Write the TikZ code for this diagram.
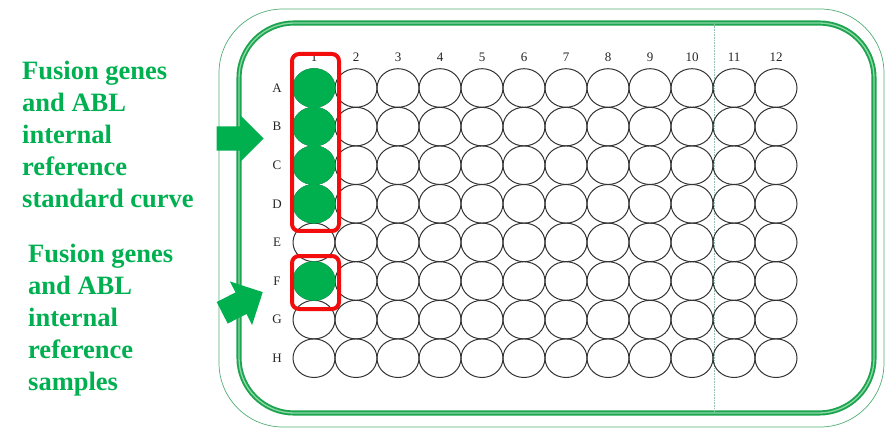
\documentclass[tikz,border=0pt]{standalone}
\usepackage{fontspec}
\setmainfont{Liberation Serif}
\usepackage{xcolor}
\usetikzlibrary{shapes.geometric,shapes.arrows,positioning}
\definecolor{cTextG}{HTML}{00B050}
\definecolor{cWellG}{HTML}{00AF4E}
\definecolor{cPlateD}{HTML}{1CA44F}
\definecolor{cPlateL}{HTML}{8FD8A8}
\definecolor{cPlateO}{HTML}{4FAF74}
\definecolor{cDivL}{HTML}{8FBFB0}
\definecolor{cBoxR}{HTML}{F20C0C}
\definecolor{cWellL}{HTML}{333333}

\begin{document}
\begin{tikzpicture}[x=1pt,y=-1pt,
  well/.style={ellipse,draw=cWellL,line width=1pt,minimum width=42pt,
    minimum height=38.6pt,inner sep=0pt},
  wellfill/.style={well,fill=cWellG,draw=cWellG},
  lbl/.style={font=\fontsize{13}{15}\selectfont,text=black!85,inner sep=0pt},
  caption/.style={font=\bfseries\fontsize{26.5}{32}\selectfont,text=cTextG,
    align=left,anchor=north west,inner sep=0pt},
  bigarrow/.style={single arrow,fill=cWellG,inner xsep=0pt,anchor=tip},
  redbox/.style={draw=cBoxR,line width=4pt,rounded corners=7pt}]

  \useasboundingbox (0,0) rectangle (885,430);

  % plate outline
  \draw[cPlateO,line width=0.7pt,rounded corners=64pt] (219,9) rectangle (884,427);
  \draw[cPlateD,line width=1.9pt,double=cPlateL,double distance=1.3pt,
    rounded corners=55pt] (239,23) rectangle (874,413);
  \draw[cDivL,line width=0.6pt,densely dotted] (714,24) -- (714,412);

  % wells
  \foreach \r [count=\i] in {A,B,C,D,E,F,G,H}
    {\node[lbl] (r\r) at (277,{88+38.6*(\i-1)}) {\r};
     \foreach \c in {1,...,12}
       {\node[well] (w\r\c) at ({314+42*(\c-1)},{88+38.6*(\i-1)}) {};}}
  \foreach \c in {1,...,12}
    {\node[lbl] (c\c) at ({314+42*(\c-1)},57) {\c};}
  \foreach \r in {A,B,C,D,F}
    {\node[wellfill] (s\r) at (w\r1) {};}

  \draw[redbox] (292,54) rectangle (339,231);
  \draw[redbox] (292,256) rectangle (339,309);

  % captions and arrows
  \node[caption] (capStd) at (22,61)
    {Fusion genes\\and ABL\\internal\\reference\\standard curve};
  \node[caption] (capSmp) at (28,244)
    {Fusion genes\\and ABL\\internal\\reference\\samples};
  \node[bigarrow,inner ysep=12pt,single arrow head extend=11.5pt,
    minimum height=47pt] (arrStd) at (264,138.5) {};
  \node[bigarrow,inner ysep=11.9pt,single arrow head extend=12.3pt,
    minimum height=45.5pt,rotate=27] (arrSmp) at (263,292) {};
\end{tikzpicture}
\end{document}
